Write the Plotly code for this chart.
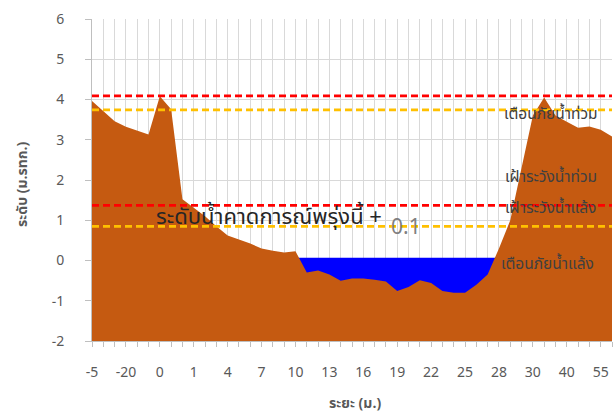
import plotly.graph_objects as go

# ---- data ----
tick_labels = ["-5", "-20", "0", "1", "4", "7", "10", "13", "16", "19", "22", "25", "28", "30", "40", "55"]
ground = [3.96, 3.70, 3.46, 3.32, 3.22, 3.13, 4.08, 3.76, 1.52, 1.32,
          1.10, 0.85, 0.62, 0.52, 0.42, 0.30, 0.24, 0.20, 0.23, -0.30,
          -0.25, -0.35, -0.50, -0.45, -0.45, -0.48, -0.52, -0.76, -0.66, -0.49,
          -0.56, -0.76, -0.80, -0.80, -0.60, -0.35, 0.30, 1.00, 2.30, 3.60,
          4.05, 3.60, 3.45, 3.30, 3.33, 3.25, 3.08]
water_level = 0.07
ref_names = ["เตือนภัยน้ำท่วม", "เฝ้าระวังน้ำท่วม", "เฝ้าระวังน้ำแล้ง", "เตือนภัยน้ำแล้ง"]
ref_values = [4.09, 3.74, 1.37, 0.85]
ref_colors = ["#FF0000", "#FFC000", "#FF0000", "#FFC000"]
ref_label_y = [3.62, 2.05, 1.28, -0.10]
ref_label_x = [40.6, 40.6, 40.6, 40.3]
forecast_text = "ระดับน้ำคาดการณ์พรุ่งนี้ +"
x_title = "ระยะ (ม.)"
y_title = "ระดับ (ม.รทก.)"
y_min, y_max = -2, 6

n = len(ground)
xs = list(range(n))
label_step = 3
tickvals = [i * label_step for i in range(len(tick_labels))]

FONT = "Tahoma, 'Leelawadee UI', 'Noto Sans Thai', 'Liberation Sans', sans-serif"
GRID = "#d9d9d9"

W, H = 615, 414
ML, MR, MT, MB = 92, 3, 19, 73
PW, PH = W - ML - MR, H - MT - MB

fig = go.Figure()
# water area (blue), filled from the bottom of the axis
fig.add_trace(go.Scatter(x=xs, y=[y_min] * n, mode="lines", line=dict(width=0),
                         hoverinfo="skip", showlegend=False))
fig.add_trace(go.Scatter(x=xs, y=[water_level] * n, mode="lines", line=dict(width=0),
                         fill="tonexty", fillcolor="#0000FF", showlegend=False))
# ground area
fig.add_trace(go.Scatter(x=xs, y=[y_min] * n, mode="lines", line=dict(width=0),
                         hoverinfo="skip", showlegend=False))
fig.add_trace(go.Scatter(x=xs, y=ground, mode="lines", line=dict(width=0, color="#C55A11"),
                         fill="tonexty", fillcolor="#C55A11", showlegend=False))
# reference lines
for name, v, c in zip(ref_names, ref_values, ref_colors):
    fig.add_trace(go.Scatter(x=xs, y=[v] * n, mode="lines", name=name,
                             line=dict(color=c, width=2.75, dash="7px,4px"),
                             showlegend=False))

for name, lx, ly in zip(ref_names, ref_label_x, ref_label_y):
    fig.add_annotation(x=lx, y=ly, text=name, showarrow=False,
                       font=dict(family=FONT, size=15.5, color="#404040"))

fig.add_annotation(x=5.5, y=1.06, text=forecast_text, showarrow=False, xanchor="left",
                   font=dict(family=FONT, size=22, color="#262626"))
fig.add_annotation(x=27.8, y=0.81, text=f"{water_level:.1f}", showarrow=False,
                   font=dict(family=FONT, size=21, color="#808080"))

# axis titles
fig.add_annotation(xref="paper", yref="paper", x=(355 - ML) / PW, y=(H - MB - 403) / PH,
                   xanchor="center", yanchor="middle",
                   text=f"<b>{x_title}</b>", showarrow=False,
                   font=dict(family=FONT, size=14, color="#595959"))
fig.add_annotation(xref="paper", yref="paper", x=(22 - ML) / PW, y=(H - MB - 185) / PH,
                   xanchor="center", yanchor="middle",
                   text=f"<b>{y_title}</b>", showarrow=False, textangle=-90,
                   font=dict(family=FONT, size=14, color="#595959"))

fig.update_layout(
    width=W, height=H,
    margin=dict(l=ML, r=MR, t=MT, b=MB),
    paper_bgcolor="white", plot_bgcolor="white",
    font=dict(family=FONT, color="#595959"),
    showlegend=False,
)
fig.update_xaxes(
    automargin=False,
    range=[0, n - 1], tickmode="array", tickvals=tickvals, ticktext=tick_labels,
    showgrid=True, gridcolor=GRID, gridwidth=1,
    ticks="outside", ticklen=5, tickcolor="#bfbfbf",
    minor=dict(dtick=1, tick0=0, showgrid=True, gridcolor=GRID, gridwidth=1,
               ticks="outside", ticklen=5, tickcolor="#bfbfbf"),
    showline=True, linecolor="#bfbfbf", linewidth=1,
    tickfont=dict(size=14, color="#595959"), ticklabelstandoff=13,
    zeroline=False,
)
fig.update_yaxes(
    automargin=False,
    range=[y_min, y_max], dtick=1,
    showgrid=True, gridcolor=GRID, gridwidth=1,
    ticks="outside", ticklen=6, tickcolor="#bfbfbf",
    showline=True, linecolor="#bfbfbf", linewidth=1,
    tickfont=dict(size=14, color="#595959"), ticklabelstandoff=18,
    zeroline=False,
)

fig.write_html("out.html", config={"displayModeBar": False},
               post_script="document.body.style.margin='0';")
